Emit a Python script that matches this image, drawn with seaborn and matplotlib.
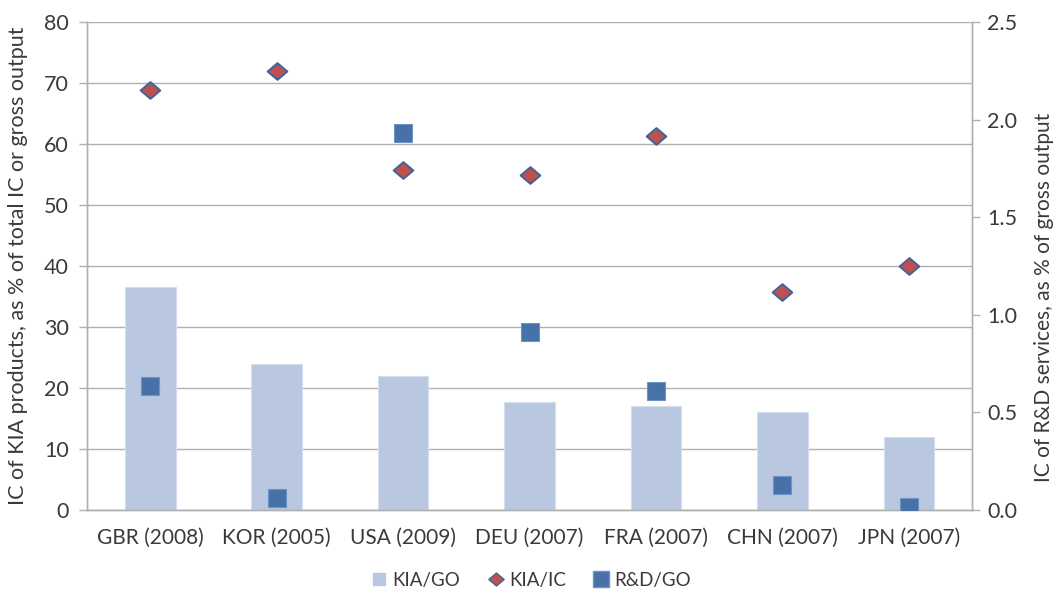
import matplotlib
matplotlib.use("Agg")
import matplotlib.pyplot as plt
from matplotlib.lines import Line2D
from matplotlib.path import Path
from matplotlib.ticker import MultipleLocator, FixedLocator, FormatStrFormatter
import seaborn as sns
import pandas as pd

countries = ["GBR (2008)", "KOR (2005)", "USA (2009)", "DEU (2007)",
             "FRA (2007)", "CHN (2007)", "JPN (2007)"]
kia_go = [36.5, 24.0, 22.0, 17.7, 17.0, 16.0, 11.9]   # left axis, bars
kia_ic = [68.8, 72.0, 55.8, 55.0, 61.3, 35.8, 40.0]   # left axis, diamonds
rd_go = [0.635, 0.063, 1.93, 0.91, 0.61, 0.13, 0.017]  # right axis, squares

df = pd.DataFrame({"country": countries, "KIA/GO": kia_go,
                   "KIA/IC": kia_ic, "R&D/GO": rd_go})

sns.set_theme(style="white")
plt.rcParams["font.family"] = ["Lato", "DejaVu Sans"]

TEXT = "#3A3A3A"
GRID = "#B0B0B0"
BAR = "#B9C7E0"
DIAMOND_FACE = "#C0504D"
DIAMOND_EDGE = "#3E659A"
SQUARE_FACE = "#4672A8"
SQUARE_EDGE = "#6F93C4"

# slightly flattened diamond marker
diamond = Path([(-1.0, 0.0), (0.0, 0.85), (1.0, 0.0), (0.0, -0.85), (-1.0, 0.0)],
               [Path.MOVETO, Path.LINETO, Path.LINETO, Path.LINETO, Path.CLOSEPOLY])

fig = plt.figure(figsize=(10.59, 5.90), dpi=100)
ax = fig.add_axes([0.0822, 0.1356, 0.918 - 0.0822, 0.9627 - 0.1356])
ax2 = ax.twinx()

sns.barplot(data=df, x="country", y="KIA/GO", ax=ax, color=BAR, width=0.4,
            saturation=1, edgecolor="#D5DEEE", linewidth=0.8, zorder=2)
sns.stripplot(data=df, x="country", y="KIA/IC", ax=ax, jitter=False,
              marker=diamond, size=14.2, color=DIAMOND_FACE,
              edgecolor=DIAMOND_EDGE, linewidth=1.4, zorder=4)
sns.stripplot(data=df, x="country", y="R&D/GO", ax=ax2, jitter=False,
              marker="s", size=13.5, color=SQUARE_FACE,
              edgecolor=SQUARE_EDGE, linewidth=0.8, zorder=4)

ax.set_xlim(-0.5, len(countries) - 0.5)
ax2.set_xlim(-0.5, len(countries) - 0.5)
ax.set_ylim(0, 80)
ax2.set_ylim(0, 2.5)
ax.yaxis.set_major_locator(MultipleLocator(10))
ax2.yaxis.set_major_locator(MultipleLocator(0.5))
ax2.yaxis.set_major_formatter(FormatStrFormatter("%.1f"))

ax.set_axisbelow(True)
ax.grid(axis="y", color=GRID, linewidth=1.0)
ax.grid(axis="x", visible=False)

# category separators as ticks on the x axis
ax.xaxis.set_minor_locator(FixedLocator([i - 0.5 for i in range(len(countries) + 1)]))
ax.tick_params(axis="x", which="major", length=0, pad=13, labelsize=15, labelcolor=TEXT)
ax.tick_params(axis="x", which="minor", length=6, width=1, color=GRID, direction="out")
ax.tick_params(axis="y", length=6, width=1, color=GRID, direction="out",
               labelsize=15.5, labelcolor=TEXT, pad=7, left=True)
ax2.tick_params(axis="y", length=6, width=1, color=GRID, direction="out",
                labelsize=15.5, labelcolor=TEXT, pad=5, right=True)

for a in (ax, ax2):
    a.spines["top"].set_visible(False)
    for s in ("left", "right", "bottom"):
        a.spines[s].set_color(GRID)
        a.spines[s].set_linewidth(1.0)

ax.set_xlabel("")
ax.set_ylabel("IC of KIA products, as % of total IC or gross output",
              fontsize=15.5, color=TEXT)
ax.yaxis.set_label_coords(-0.067, 0.5)
ax2.set_ylabel("IC of R&D services, as % of gross output",
               fontsize=15, color=TEXT, rotation=90)
ax2.yaxis.set_label_coords(1.07, 0.436)
ax2.set_zorder(ax.get_zorder() + 1)
ax2.patch.set_visible(False)

handles = [
    Line2D([], [], linestyle="none", marker="s", markersize=9,
           markerfacecolor=BAR, markeredgecolor=BAR),
    Line2D([], [], linestyle="none", marker=diamond, markersize=11,
           markerfacecolor=DIAMOND_FACE, markeredgecolor=DIAMOND_EDGE, markeredgewidth=1),
    Line2D([], [], linestyle="none", marker="s", markersize=11,
           markerfacecolor=SQUARE_FACE, markeredgecolor=SQUARE_EDGE),
]
fig.legend(handles, ["KIA/GO", "KIA/IC", "R&D/GO"], loc="lower center",
           bbox_to_anchor=(0.5, -0.027), ncol=3, frameon=False, fontsize=13.5,
           labelcolor=TEXT, handletextpad=0.1, columnspacing=1.3, handlelength=1.2)

fig.savefig("out.png", dpi=100)
